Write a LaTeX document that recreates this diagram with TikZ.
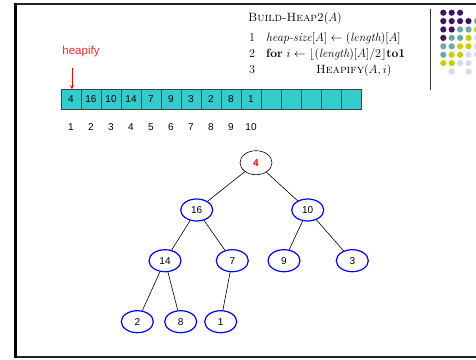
\documentclass[tikz,border=0pt]{standalone}
\usepackage{fontspec}
\newfontfamily\arialfont{Liberation Sans}
\usetikzlibrary{shapes.geometric,arrows.meta}
\definecolor{cellcyan}{RGB}{51,204,204}
\definecolor{dotP}{RGB}{62,22,104}
\definecolor{dotT}{RGB}{110,168,168}
\definecolor{dotY}{RGB}{204,204,0}
\definecolor{dotL}{RGB}{216,216,238}
\definecolor{dotN}{RGB}{255,255,255}
\newcommand\labfont{\arialfont\fontsize{10}{12}\selectfont}
\tikzset{
  cell/.style={draw=black!75, line width=0.8pt, fill=cellcyan, minimum width=20pt, minimum height=19.5pt, inner sep=0pt, font=\labfont},
  idx/.style={font=\labfont, inner sep=1pt},
  algline/.style={anchor=base west, inner sep=0pt, font=\fontsize{12}{14}\selectfont}
}
\begin{document}
\begin{tikzpicture}[x=1pt,y=-1pt]
\useasboundingbox (0,0) rectangle (476,359);
% frame
\draw[black!85, line width=2pt] (15,3.5) -- (476,3.5);
\draw[black!85, line width=2pt] (15,357) -- (476,357);
\draw[line width=2.5pt] (15.5,2.5) -- (15.5,358);
\draw[black!80, line width=0.9pt] (430,9) -- (430,90);

% dots
\begin{scope}
  \clip (435,5) rectangle (476,80);
  \foreach \dotcols [count=\dotrow] in {{P,P,P,N,N},{P,P,P,P,T},{P,P,T,T,Y},{P,T,T,Y,L},{T,T,Y,Y,L},{T,Y,Y,L,L},{Y,Y,L,L,N},{N,L,N,L,N}}
    \foreach \dotname [count=\dotcol] in \dotcols
      \fill[dot\dotname] (443.3+8.4*\dotcol-8.4, 12.7+8.4*\dotrow-8.4) circle (3.1);
\end{scope}

% algorithm
\node[algline] (title) at (248,21) {\textsc{Build-Heap2}$(A)$};
\node[algline] (n1) at (249,41) {1};
\node[algline] (n2) at (249,57) {2};
\node[algline] (n3) at (249,73) {3};
\node[algline] (a1) at (266,41) {\textit{heap-size}$[A] \gets (\mathit{length})[A]$};
\node[algline] (a2) at (266,57) {\textbf{for} $i \gets \lfloor(\mathit{length})[A]/2\rfloor$\textbf{to1}};
\node[algline] (a3) at (316,73) {\textsc{Heapify}$(A,i)$};

% array
\foreach \v [count=\i] in {4,16,10,14,7,9,3,2,8,1,{},{},{},{},{}}
  \node[cell] (c\i) at (71+20*\i-20, 99.4) {\v};
\foreach \i in {1,...,10}
  \node[idx] (k\i) at (71+20*\i-20, 127) {\i};

\node[font=\arialfont\fontsize{11.5}{13}\selectfont, text=red!85] (hlabel) at (81,52) {heapify};
\coordinate (htail) at (72,68);
\draw[red, line width=0.8pt, -{Stealth[length=4pt,width=3.5pt]}] (htail) -- (htail |- c1.north);

% tree
\begin{scope}[every node/.style={ellipse, draw=blue, line width=1.2pt, minimum width=32pt, minimum height=22pt, inner sep=0pt, font=\labfont}]
  \node[draw=black, line width=0.6pt, minimum height=24pt, text=red, font=\labfont\bfseries] (h1) at (256,162.7) {4};
  \node (h2) at (196.7,210) {16};
  \node (h3) at (307.7,210) {10};
  \node (h4) at (165,260.7) {14};
  \node (h5) at (232.3,260.7) {7};
  \node (h6) at (284,260.7) {9};
  \node (h7) at (352.3,260.7) {3};
  \node (h8) at (137.3,321.7) {2};
  \node (h9) at (180.7,321.7) {8};
  \node (h10) at (220.7,321.7) {1};
\end{scope}

\begin{scope}[every edge/.style={draw=black, line width=0.6pt}]
  \path (h1) edge (h2) (h1) edge (h3);
  \path (h2) edge (h4) (h2) edge (h5);
  \path (h3) edge (h6) (h3) edge (h7);
  \path (h4) edge (h8) (h4) edge (h9);
  \path (h5) edge (h10);
\end{scope}
\end{tikzpicture}
\end{document}
